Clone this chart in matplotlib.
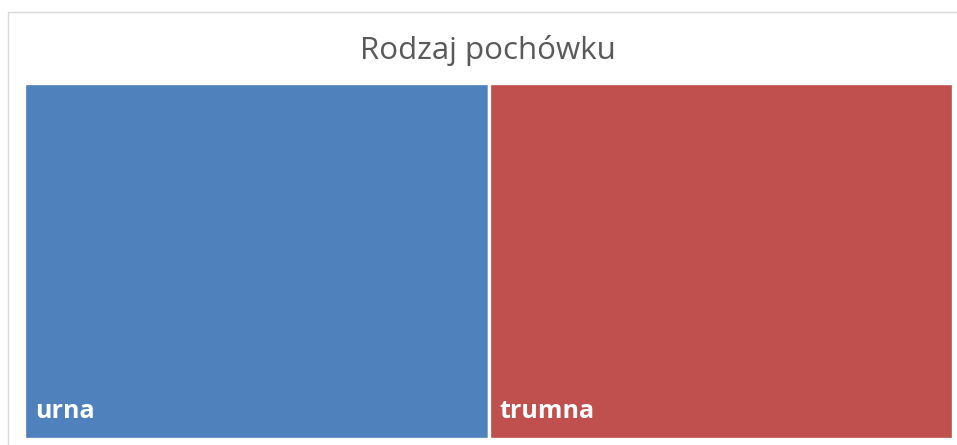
import matplotlib
matplotlib.use("Agg")
import matplotlib.pyplot as plt
from matplotlib.patches import Rectangle

# ---- DATA ----
categories = ["urna", "trumna"]
values = [50, 50]
colors = ["#4F81BD", "#C0504D"]
title = "Rodzaj pochówku"

W, H = 957, 445
fig = plt.figure(figsize=(W / 100, H / 100), dpi=100)

# chart frame (only top and left edges visible in the crop)
fig.patches.append(Rectangle((8 / W, -0.1), 1.2, (H - 12) / H + 0.1,
                             transform=fig.transFigure, fill=False,
                             edgecolor="#D9D9D9", linewidth=1.0))

fig.text(488 / W, 1 - 51 / H, title, ha="center", va="center",
         fontsize=22.5, color="#595959", family="Open Sans")

# plot area in pixels (slightly outset, white edges eat into it)
left, right, top, bottom = 24, 953, 82.5, 438.5
ax = fig.add_axes([left / W, (H - bottom) / H, (right - left) / W, (bottom - top) / H])

total = sum(values)
x0 = 0
for cat, v, c in zip(categories, values, colors):
    ax.add_patch(Rectangle((x0, 0), v, 1, facecolor=c, edgecolor="white", linewidth=2.4))
    ax.text(x0 + total * 0.012, 0.075, cat, color="white", fontsize=18,
            fontweight="bold", family="Open Sans", ha="left", va="center")
    x0 += v

ax.set_xlim(0, total)
ax.set_ylim(0, 1)
ax.axis("off")

fig.savefig("out.png", dpi=100)
